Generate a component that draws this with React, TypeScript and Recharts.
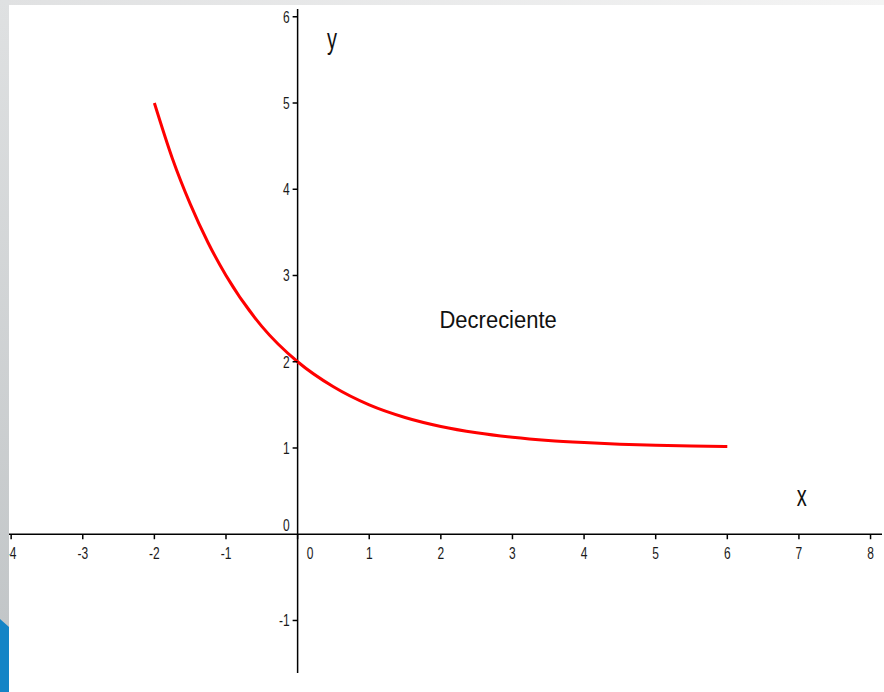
import { LineChart, Line, XAxis, YAxis, ReferenceLine, ReferenceDot } from 'recharts';

// sampled points of the decreasing curve
const xValues = [-2, -1.75, -1.5, -1.25, -1, -0.5, 0, 0.5, 1, 1.5, 2, 2.5, 3, 3.5, 4, 4.5, 5, 5.5, 6];
const yValues = [5, 4.36, 3.83, 3.38, 3, 2.41, 2, 1.71, 1.5, 1.354, 1.25, 1.177, 1.125, 1.088, 1.063, 1.044, 1.031, 1.022, 1.016];

const xTicks = [-4, -3, -2, -1, 0, 1, 2, 3, 4, 5, 6, 7, 8];
const yTicks = [-1, 0, 1, 2, 3, 4, 5, 6];

const curve = xValues.map((x, i) => ({ x, y: yValues[i] }));

const FONT = '"Liberation Sans", Arial, sans-serif';
const TEXT = '#1a1a1a';

const XTick = (label: number) => (props: any) => {
  const { cx, cy } = props;
  const dx = label === 0 ? 12.5 : 0;
  return (
    <g>
      <line x1={cx} y1={cy} x2={cx} y2={cy + 5} stroke="#000" strokeWidth={1.5} />
      <g transform={`translate(${cx + dx},${cy + 25})`}>
        <text transform="scale(1,1.35)" textAnchor="middle" fontFamily={FONT} fontSize={12} fill={TEXT}>
          {label}
        </text>
      </g>
    </g>
  );
};

const YTick = (label: number) => (props: any) => {
  const { cx, cy } = props;
  const dy = label === 0 ? -3 : 5.8;
  return (
    <g>
      {label !== 0 && <line x1={cx - 5} y1={cy} x2={cx} y2={cy} stroke="#000" strokeWidth={1.5} />}
      <g transform={`translate(${cx - 8},${cy + dy})`}>
        <text transform="scale(1,1.35)" textAnchor="end" fontFamily={FONT} fontSize={12} fill={TEXT}>
          {label}
        </text>
      </g>
    </g>
  );
};

const Caption = (text: string, size: number, stretch: number) => (props: any) => {
  const { cx, cy } = props;
  return (
    <g transform={`translate(${cx},${cy})`}>
      <text transform={`scale(1,${stretch})`} textAnchor="middle" fontFamily={FONT} fontSize={size} fill="#111">
        {text}
      </text>
    </g>
  );
};

export default function App() {
  return (
    <div style={{ position: 'absolute', left: 0, top: 0, width: 884, height: 692, background: '#fff', overflow: 'hidden' }}>
      <LineChart width={884} height={692} data={curve} margin={{ top: 9, right: 2, bottom: 19, left: 9 }}>
        <XAxis type="number" dataKey="x" domain={[-4.03, 8.16]} hide allowDataOverflow />
        <YAxis type="number" domain={[-1.609, 6.09]} hide allowDataOverflow />

        <ReferenceLine y={0} stroke="#000" strokeWidth={1.5} />
        <ReferenceLine x={0} stroke="#000" strokeWidth={1.5} />

        {xTicks.map((t) => (
          <ReferenceDot key={`xt${t}`} x={t} y={0} r={0} shape={XTick(t)} />
        ))}
        {yTicks.map((t) => (
          <ReferenceDot key={`yt${t}`} x={0} y={t} r={0} shape={YTick(t)} />
        ))}

        <ReferenceDot x={0.48} y={5.63} r={0} shape={Caption('y', 20, 1.5)} />
        <ReferenceDot x={7.04} y={0.33} r={0} shape={Caption('x', 20, 1.5)} />
        <ReferenceDot x={2.8} y={2.39} r={0} shape={Caption('Decreciente', 22, 1.12)} />

        <Line
          type="monotone"
          dataKey="y"
          stroke="#ff0000"
          strokeWidth={3}
          dot={false}
          isAnimationActive={false}
        />
      </LineChart>

      {/* window chrome: top strip, left strip and blue corner */}
      <div style={{ position: 'absolute', left: 0, top: 0, width: 884, height: 5, background: 'linear-gradient(to right, #e0e1e2, #f4f4f4)' }} />
      <div style={{ position: 'absolute', left: 0, top: 0, width: 9, height: 692, background: 'linear-gradient(to bottom, #dfe1e2, #bfc3c5)' }} />
      <div
        style={{
          position: 'absolute',
          left: 0,
          top: 619,
          width: 9,
          height: 73,
          background: '#1384c6',
          clipPath: 'polygon(0 0, 100% 8px, 100% 100%, 0 100%)',
        }}
      />
    </div>
  );
}
